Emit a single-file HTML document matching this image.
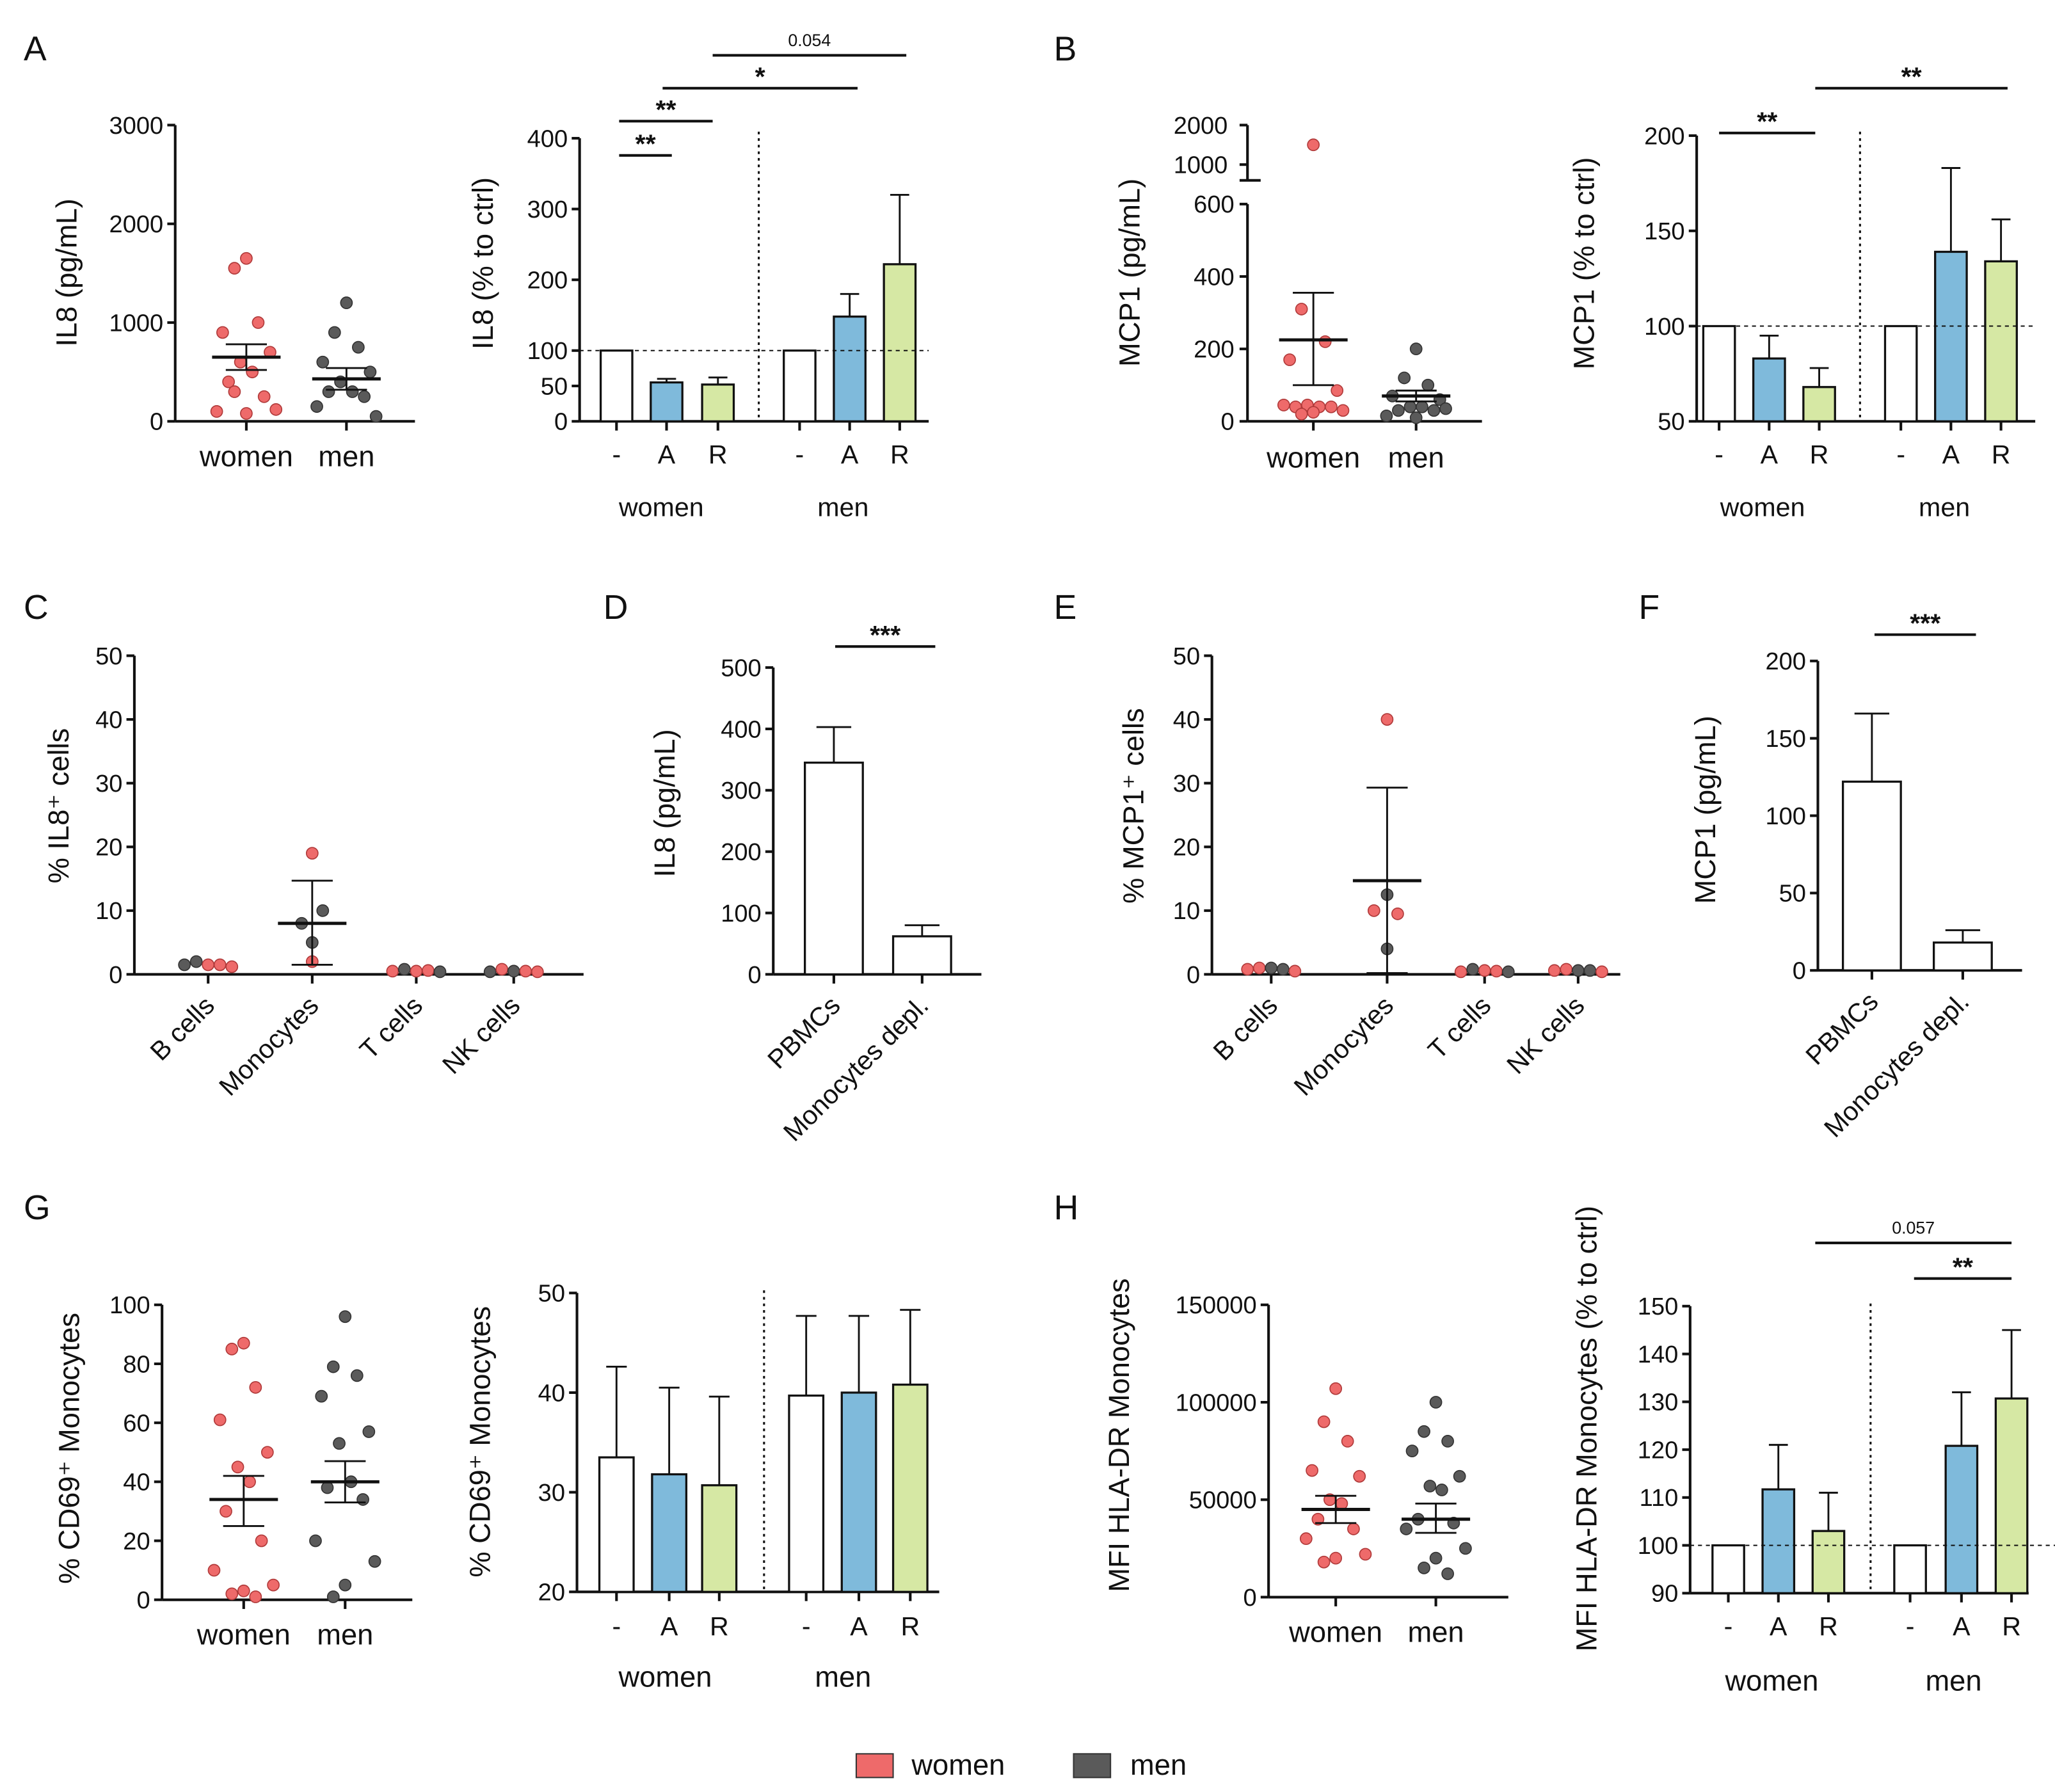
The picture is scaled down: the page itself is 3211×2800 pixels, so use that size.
<!DOCTYPE html>
<html><head><meta charset="utf-8"><style>
html,body{margin:0;padding:0;background:#fff}
svg{display:block}
text{font-family:"Liberation Sans",sans-serif;fill:#111}
</style></head><body>
<svg id="fig" xmlns="http://www.w3.org/2000/svg" width="3211" height="2800" viewBox="0 0 1560 1361" preserveAspectRatio="none"></svg>
<script>
// ---------- DATA ----------
const il8Women=[1650,1550,1000,900,700,600,500,400,250,100,120,80,300];
const il8Men=[1200,900,750,600,500,400,300,300,250,150,50];
const il8Stats=[[650,780,520],[430,540,320]];
const il8PctVals=[100,55,52,100,148,222];
const il8PctErr=[100,60,62,100,180,320];
const mcpWomen=[1500,310,220,170,85,45,40,40,40,45,30,25,20];
const mcpMen=[200,120,100,70,60,40,40,30,30,15,35,10];
const mcpStats=[[225,355,100],[70,85,55]];
const mcpPctVals=[100,83,68,100,139,134];
const mcpPctErr=[100,95,78,100,183,156];
const cCats=["B cells","Monocytes","T cells","NK cells"];
const cIl8=[[1.5,2,1.5,1.5,1.2],[19,10,8,5,2],[0.5,0.8,0.5,0.6,0.4],[0.4,0.8,0.5,0.5,0.4]];
const cIl8Col=[[1,1,0,0,0],[0,1,1,1,0],[0,1,0,0,1],[1,0,1,0,0]];
const cIl8Stats=[8,14.7,1.5];
const dCats=["PBMCs","Monocytes depl."];
const dVals=[345,62];const dErr=[403,80];
const eMcp=[[0.8,1,1,0.8,0.5],[40,12.5,10,9.5,4],[0.4,0.8,0.6,0.5,0.4],[0.6,0.8,0.6,0.6,0.4]];
const eMcpCol=[[0,0,1,1,0],[0,1,0,0,1],[0,1,0,0,1],[0,0,1,1,0]];
const eStats=[14.7,29.3,0.2];
const fVals=[122,18];const fErr=[166,26];
const g1Women=[87,85,72,61,50,45,40,30,20,10,5,3,2,1];
const g1Men=[96,79,76,69,57,53,40,38,34,20,13,5,1];
const g1Stats=[[34,42,25],[40,47,33]];
const g2Vals=[33.5,31.8,30.7,39.7,40,40.8];
const g2Err=[42.6,40.5,39.6,47.7,47.7,48.3];
const h1Women=[107000,90000,80000,65000,62000,50000,48000,40000,35000,30000,22000,20000,18000];
const h1Men=[100000,85000,80000,75000,62000,57000,55000,40000,38000,35000,25000,20000,15000,12000];
const h1Stats=[[45000,52000,38000],[40000,48000,33000]];
const h2Vals=[100,111.7,103,100,120.8,130.7];
const h2Err=[100,121,111,100,132,145];
const condLabels=["-","A","R","-","A","R"];
// ---------- HELPERS ----------
const NS="http://www.w3.org/2000/svg";const svg=document.getElementById('fig');
const PINK="#ee6a6a",GREY="#5a5a5a",BLUE="#7fbadb",GREEN="#d6e8a4";
const BAR_FILL=["#fff",BLUE,GREEN,"#fff",BLUE,GREEN];
function mk(tag,name,a,p){const e=document.createElementNS(NS,tag);


for(const k in a)e.setAttribute(k,a[k]);(p||svg).appendChild(e);return e;}
function line(n,x1,y1,x2,y2,w,dash){const o={x1,y1,x2,y2,stroke:"#111","stroke-width":w||1.6};if(dash)o["stroke-dasharray"]=dash;return mk('line',n,o);}
function txt(n,x,y,s,size,anchor,rot,weight){const o={x,y,"font-size":size||17,"text-anchor":anchor||"middle"};if(rot!==undefined)o.transform=`rotate(${rot} ${x} ${y})`;if(weight)o["font-weight"]=weight;const t=mk('text',n,o);t.textContent=s;return t;}
function lin(v0,v1,p0,p1){return v=>p0+(v-v0)/(v1-v0)*(p1-p0);}
function yAxis(n,x,yTop,yBot,sc,ticks){line(n+'-y-axis',x,yTop,x,yBot,2);
ticks.forEach(t=>{const y=sc(t);line(n+'-y-tick',x-6,y,x,y,2);txt(n+'-y-tick-label',x-9,y+6.5,String(t),18.5,"end");});}
function xAxis(n,x1,x2,y){line(n+'-x-axis',x1,y,x2,y,2);}
function dot(n,x,y,c){mk('circle',n,{cx:x,cy:y,r:4.4,fill:c,stroke:c==PINK?"#b03a3a":"#333","stroke-width":0.8});}
function jit(i){const pat=[0,-1,1,-2,2,-0.5,0.5,-1.5,1.5,-2.5,2.5,0,-1,1];return pat[i%pat.length]*9;}
function meanSem(n,x,sc,st,w){line(n+'-mean',x-w,sc(st[0]),x+w,sc(st[0]),2.4);line(n+'-sem',x,sc(st[1]),x,sc(st[2]),1.4);
line(n+'-sem-top',x-w*0.6,sc(st[1]),x+w*0.6,sc(st[1]),1.4);line(n+'-sem-bot',x-w*0.6,sc(st[2]),x+w*0.6,sc(st[2]),1.4);}
function bar(n,x,w,sc,base,v,err,fill){const y=sc(v),y0=sc(base);mk('rect',n,{x:x-w/2,y:y,width:w,height:y0-y,fill:fill,stroke:"#111","stroke-width":1.6});
if(err>v){line(n+'-err',x,sc(err),x,y,1.4);line(n+'-err-cap',x-w*0.3,sc(err),x+w*0.3,sc(err),1.4);}}
function sig(n,x1,x2,y,s,small){line(n+'-line',x1,y,x2,y,2);txt(n+'-text',(x1+x2)/2,small?y-7:y-2,s,small?13:20,"middle",undefined,small?null:"bold");}
function ylabel(n,x,y,s){txt(n,x,y,s,22,"middle",-90);}
function scatterGroups(n,xs,sc,groups,stats,cols,w){groups.forEach((g,gi)=>{g.forEach((v,i)=>dot(n+'-point',xs[gi]+jit(i),sc(v),cols[gi]));meanSem(n+'-'+gi,xs[gi],sc,stats[gi],w);});}
function barGroup(n,xs,w,sc,base,vals,errs,fills){vals.forEach((v,i)=>bar(n+'-bar-'+i,xs[i],w,sc,base,v,errs[i],fills[i]));}
function xTicks(n,xs,y){xs.forEach(x=>line(n+'-x-tick',x,y,x,y+7,2));}
function rotLabels(n,xs,y,labels){labels.forEach((l,i)=>txt(n+'-x-label',xs[i]+6,y,l,20,"end",-45));}
// ---------- PANEL LETTERS ----------
[["A",18,46],["B",800,46],["C",18,470],["D",458,470],["E",800,470],["F",1244,470],["G",18,926],["H",800,926]].forEach(p=>txt('panel-letter-'+p[0],p[1],p[2],p[0],26,"start"));
// ---------- A1 ----------
{const sc=lin(0,3000,320,95);yAxis('a1',133,95,320,sc,[0,1000,2000,3000]);xAxis('a1',133,315,320);
const xs=[187,263];xTicks('a1',xs,320);scatterGroups('a1',xs,sc,[il8Women,il8Men],il8Stats,[PINK,GREY],26);
txt('a1-x-label',187,354,"women",22);txt('a1-x-label',263,354,"men",22);ylabel('a1-y-title',58,207,"IL8 (pg/mL)");}
// ---------- A2 ----------
{const sc=lin(0,400,320,105);yAxis('a2',440,105,320,sc,[0,50,100,200,300,400]);xAxis('a2',440,705,320);
const xs=[468,506,545,607,645,683];xTicks('a2',xs,320);
barGroup('a2',xs,24,sc,0,il8PctVals,il8PctErr,BAR_FILL);
line('a2-ref-line',440,sc(100),705,sc(100),1,"3,3");line('a2-divider',576,100,576,320,1.5,"2,3");
condLabels.forEach((l,i)=>txt('a2-x-label',xs[i],352,l,20));txt('a2-group-women',502,392,"women",20);txt('a2-group-men',640,392,"men",20);
sig('a2-sig1',470,510,118,"**");sig('a2-sig2',470,541,92,"**");sig('a2-sig3',503,651,67,"*");sig('a2-sig4',541,688,42,"0.054",true);
ylabel('a2-y-title',374,200,"IL8 (% to ctrl)");}
// ---------- B1 (broken axis) ----------
{const lo=lin(0,600,320,155),hi=lin(1000,2000,125,95);const sc=v=>v>=1000?hi(v):lo(v);
line('b1-y-axis-top',947,95,947,137,2);line('b1-break',941,137,957,137,2);line('b1-y-axis',947,155,947,320,2);
[0,200,400,600].forEach(t=>{line('b1-y-tick',941,lo(t),947,lo(t),2);txt('b1-y-tick-label',937,lo(t)+6.5,String(t),18.5,"end");});
[1000,2000].forEach(t=>{line('b1-y-tick',941,hi(t),947,hi(t),2);txt('b1-y-tick-label',932,hi(t)+6.5,String(t),18.5,"end");});
xAxis('b1',947,1125,320);const xs=[997,1075];xTicks('b1',xs,320);
scatterGroups('b1',xs,sc,[mcpWomen,mcpMen],mcpStats,[PINK,GREY],26);
txt('b1-x-label',997,355,"women",22);txt('b1-x-label',1075,355,"men",22);ylabel('b1-y-title',865,207,"MCP1 (pg/mL)");}
// ---------- B2 ----------
{const sc=lin(50,200,320,103);yAxis('b2',1288,103,320,sc,[50,100,150,200]);xAxis('b2',1288,1545,320);
const xs=[1305,1343,1381,1443,1481,1519];xTicks('b2',xs,320);barGroup('b2',xs,24,sc,50,mcpPctVals,mcpPctErr,BAR_FILL);
line('b2-ref-line',1288,sc(100),1545,sc(100),1,"3,3");line('b2-divider',1412,100,1412,320,1.5,"2,3");
condLabels.forEach((l,i)=>txt('b2-x-label',xs[i],352,l,20));txt('b2-group-women',1338,392,"women",20);txt('b2-group-men',1476,392,"men",20);
sig('b2-sig1',1305,1378,101,"**");sig('b2-sig2',1378,1524,67,"**");ylabel('b2-y-title',1210,200,"MCP1 (% to ctrl)");}
// ---------- C ----------
{const sc=lin(0,50,740,498);yAxis('c',102,498,740,sc,[0,10,20,30,40,50]);xAxis('c',102,443,740);
const xs=[158,237,316,390];xTicks('c',xs,740);
cIl8.forEach((g,gi)=>g.forEach((v,i)=>dot('c-point',xs[gi]+(gi==1?[0,8,-8,0,0][i]:(i-2)*9),sc(v),cIl8Col[gi][i]?GREY:PINK)));
meanSem('c-monocytes',xs[1],sc,cIl8Stats,26);rotLabels('c',xs,765,cCats);ylabel('c-y-title',52,612,"% IL8⁺ cells");}
// ---------- D ----------
{const sc=lin(0,500,740,507);yAxis('d',587,507,740,sc,[0,100,200,300,400,500]);xAxis('d',587,745,740);
const xs=[633,700];xTicks('d',xs,740);barGroup('d',xs,44,sc,0,dVals,dErr,["#fff","#fff"]);
sig('d-sig',634,710,491,"***");rotLabels('d',xs,765,dCats);ylabel('d-y-title',512,610,"IL8 (pg/mL)");}
// ---------- E ----------
{const sc=lin(0,50,740,498);yAxis('e',920,498,740,sc,[0,10,20,30,40,50]);xAxis('e',920,1230,740);
const xs=[965,1053,1127,1198];xTicks('e',xs,740);
eMcp.forEach((g,gi)=>g.forEach((v,i)=>dot('e-point',xs[gi]+(gi==1?[0,0,-10,8,0][i]:(i-2)*9),sc(v),eMcpCol[gi][i]?GREY:PINK)));
meanSem('e-monocytes',xs[1],sc,eStats,26);rotLabels('e',xs,765,cCats);ylabel('e-y-title',868,612,"% MCP1⁺ cells");}
// ---------- F ----------
{const sc=lin(0,200,737,502);yAxis('f',1380,502,737,sc,[0,50,100,150,200]);xAxis('f',1380,1535,737);
const xs=[1421,1490];xTicks('f',xs,737);barGroup('f',xs,44,sc,0,fVals,fErr,["#fff","#fff"]);
sig('f-sig',1423,1500,482,"***");rotLabels('f',xs,762,dCats);ylabel('f-y-title',1302,615,"MCP1 (pg/mL)");}
// ---------- G1 ----------
{const sc=lin(0,100,1215,991);yAxis('g1',123,991,1215,sc,[0,20,40,60,80,100]);xAxis('g1',123,313,1215);
const xs=[185,262];xTicks('g1',xs,1215);scatterGroups('g1',xs,sc,[g1Women,g1Men],g1Stats,[PINK,GREY],26);
txt('g1-x-label',185,1249,"women",22);txt('g1-x-label',262,1249,"men",22);ylabel('g1-y-title',60,1100,"% CD69⁺ Monocytes");}
// ---------- G2 ----------
{const sc=lin(20,50,1209,982);yAxis('g2',438,982,1209,sc,[20,30,40,50]);xAxis('g2',438,713,1209);
const xs=[468,508,546,612,652,691];xTicks('g2',xs,1209);barGroup('g2',xs,26,sc,20,g2Vals,g2Err,BAR_FILL);
line('g2-divider',580,980,580,1209,1.5,"2,3");
condLabels.forEach((l,i)=>txt('g2-x-label',xs[i],1242,l,20));txt('g2-group-women',505,1281,"women",22);txt('g2-group-men',640,1281,"men",22);
ylabel('g2-y-title',372,1095,"% CD69⁺ Monocytes");}
// ---------- H1 ----------
{const sc=lin(0,150000,1213,991);yAxis('h1',963,991,1213,sc,[0,50000,100000,150000]);xAxis('h1',963,1145,1213);
const xs=[1014,1090];xTicks('h1',xs,1213);scatterGroups('h1',xs,sc,[h1Women,h1Men],h1Stats,[PINK,GREY],26);
txt('h1-x-label',1014,1247,"women",22);txt('h1-x-label',1090,1247,"men",22);ylabel('h1-y-title',857,1090,"MFI HLA-DR Monocytes");}
// ---------- H2 ----------
{const sc=lin(90,150,1210,992);yAxis('h2',1283,992,1210,sc,[90,100,110,120,130,140,150]);xAxis('h2',1283,1540,1210);
const xs=[1312,1350,1388,1450,1489,1527];xTicks('h2',xs,1210);barGroup('h2',xs,24,sc,90,h2Vals,h2Err,BAR_FILL);
line('h2-ref-line',1283,sc(100),1560,sc(100),1,"3,3");line('h2-divider',1420,990,1420,1210,1.5,"2,3");
condLabels.forEach((l,i)=>txt('h2-x-label',xs[i],1242,l,20));txt('h2-group-women',1345,1284,"women",22);txt('h2-group-men',1483,1284,"men",22);
sig('h2-sig1',1453,1527,971,"**");sig('h2-sig2',1378,1527,944,"0.057",true);ylabel('h2-y-title',1212,1085,"MFI HLA-DR Monocytes (% to ctrl)");}
// ---------- LEGEND ----------
mk('rect','legend-women-swatch',{x:650,y:1332,width:28,height:18,fill:PINK,stroke:"#333","stroke-width":1});
txt('legend-women-label',692,1348,"women",22,"start");
mk('rect','legend-men-swatch',{x:815,y:1332,width:28,height:18,fill:GREY,stroke:"#333","stroke-width":1});
txt('legend-men-label',858,1348,"men",22,"start");
</script>
</body></html>
